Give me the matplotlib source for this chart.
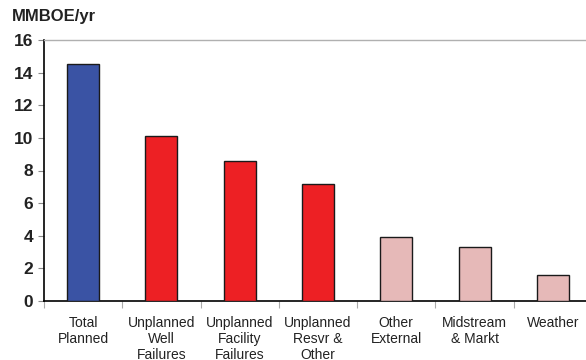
import matplotlib
matplotlib.use("Agg")
import matplotlib.pyplot as plt
import numpy as np

categories = ["Total\nPlanned", "Unplanned\nWell\nFailures", "Unplanned\nFacility\nFailures",
              "Unplanned\nResvr &\nOther", "Other\nExternal", "Midstream\n& Markt", "Weather"]
values = [14.5, 10.1, 8.6, 7.2, 3.9, 3.3, 1.6]
colors = ["#3A53A4", "#ED2024", "#ED2024", "#ED2024", "#E6B9B8", "#E6B9B8", "#E6B9B8"]
yticks = [0, 2, 4, 6, 8, 10, 12, 14, 16]

fig = plt.figure(figsize=(5.86, 3.6), dpi=100)
ax = fig.add_axes([44 / 586, 1 - 301 / 360, 548 / 586, 261 / 360])

x = np.arange(len(categories))
ax.bar(x, values, width=0.41, color=colors, edgecolor="#1a1a1a", linewidth=1.0, zorder=3)

ax.set_xlim(-0.5, len(categories) - 0.5)
ax.set_ylim(0, 16)
ax.set_yticks(yticks)
ax.set_yticklabels([str(v) for v in yticks], fontsize=12.5, fontweight="bold",
                   family=["Liberation Sans", "DejaVu Sans"], color="#222222")
ax.tick_params(axis="y", length=4, width=0.8, color="#888888", pad=4)

ax.set_xticks(x)
ax.set_xticklabels(categories, fontsize=10, family=["Liberation Sans Narrow", "Liberation Sans", "DejaVu Sans"],
                   color="#222222", linespacing=1.15)
ax.tick_params(axis="x", which="major", length=0, pad=11)
ax.set_xticks(np.arange(len(categories) + 1) - 0.5, minor=True)
ax.tick_params(axis="x", which="minor", length=5, width=0.8, color="#aaaaaa")

ax.spines["right"].set_visible(False)
ax.spines["top"].set_color("#b0b0b0")
ax.spines["top"].set_linewidth(1.0)
ax.spines["left"].set_color("black")
ax.spines["left"].set_linewidth(1.2)
ax.spines["bottom"].set_color("black")
ax.spines["bottom"].set_linewidth(1.2)

fig.text(12 / 586, 1 - 17 / 360, "MMBOE/yr", fontsize=12, fontweight="bold",
         family=["Liberation Sans", "DejaVu Sans"], color="#222222", va="center", ha="left")

fig.savefig("out.png", dpi=100, facecolor="white")
